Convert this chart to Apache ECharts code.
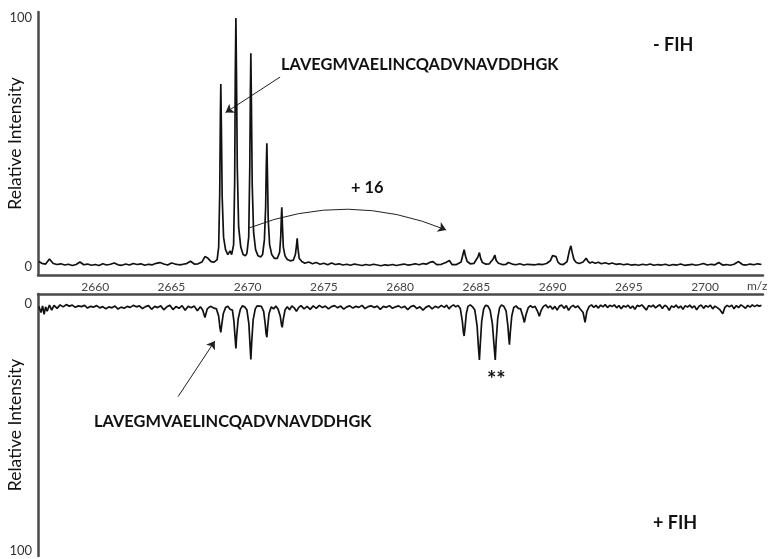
<!DOCTYPE html>
<html><head><meta charset="utf-8">
<script src="https://cdn.jsdelivr.net/npm/echarts@6/dist/echarts.min.js"></script>
<style>html,body{margin:0;padding:0;background:#fff}#c{width:771px;height:559px}</style>
</head><body><div id="c"></div>
<script>
// m/z tick labels and intensity tick labels
const mzTicks = [2660, 2665, 2670, 2675, 2680, 2685, 2690, 2695, 2700];
const intensityTicks = [0, 100];
const peptide = 'LAVEGMVAELINCQADVNAVDDHGK';
const panelLabels = ['- FIH', '+ FIH'];

// - FIH spectrum: [m/z, relative intensity]
const minusFIH = [
[2656.3,2.2],[2656.5,1.5],[2656.75,1.2],[2657.0,3.2],[2657.25,1.4],[2657.5,1.0],[2657.75,1.3],[2658.0,0.8],
[2658.25,1.1],[2658.5,0.6],[2658.75,1.0],[2659.0,2.0],[2659.25,0.9],[2659.5,1.2],[2659.75,0.7],[2660.0,1.0],
[2660.25,0.6],[2660.5,1.3],[2660.75,0.8],[2661.0,1.1],[2661.25,1.6],[2661.5,0.9],[2661.75,0.7],[2662.0,1.2],
[2662.25,0.8],[2662.5,1.4],[2662.75,1.0],[2663.0,1.3],[2663.25,0.7],[2663.5,1.1],[2663.75,0.9],[2664.0,1.5],
[2664.25,1.8],[2664.5,1.2],[2664.75,0.8],[2665.0,1.6],[2665.25,1.2],[2665.5,0.9],[2665.75,1.1],[2666.0,1.4],
[2666.25,2.3],[2666.5,1.2],[2666.75,1.3],[2667.0,2.0],[2667.2,4.2],[2667.4,3.5],[2667.6,2.2],[2667.8,2.0],
[2668.0,3.0],[2668.1,8],[2668.17,30],[2668.21,60],[2668.24,73.5],[2668.28,55],[2668.33,28],[2668.42,12],
[2668.55,7],[2668.7,5],[2668.85,6.5],[2668.95,5],[2669.08,9],[2669.15,35],[2669.19,78],[2669.23,100],
[2669.27,76],[2669.32,40],[2669.41,16],[2669.55,8],[2669.7,5],[2669.85,4.5],[2669.95,5.5],[2670.07,12],
[2670.14,40],[2670.18,70],[2670.21,85.8],[2670.25,64],[2670.3,33],[2670.39,14],[2670.52,7],[2670.68,4.5],
[2670.85,4],[2670.98,5],[2671.1,11],[2671.18,24],[2671.22,40],[2671.26,49.7],[2671.3,37],[2671.35,19],
[2671.44,9],[2671.58,5],[2671.75,3.5],[2671.95,3.5],[2672.1,6],[2672.17,12],[2672.21,20],[2672.24,24],
[2672.28,17],[2672.34,8],[2672.45,4.5],[2672.6,3],[2672.8,2.5],[2673.0,2.8],[2673.13,5],[2673.21,9],
[2673.25,11.5],[2673.3,7.5],[2673.38,3.5],[2673.55,2.2],[2673.75,1.5],[2674.0,2.0],[2674.25,1.3],[2674.5,1.8],
[2674.75,1.1],[2675.0,1.5],[2675.25,0.9],[2675.5,1.6],[2675.75,1.0],[2676.0,1.3],[2676.25,0.8],[2676.5,1.1],
[2676.75,0.7],[2677.0,1.2],[2677.25,0.9],[2677.5,0.6],[2677.75,1.0],[2678.0,0.7],[2678.25,1.1],[2678.5,0.8],
[2678.75,0.5],[2679.0,0.9],[2679.25,0.7],[2679.5,1.0],[2679.75,0.6],[2680.0,0.9],[2680.25,1.2],[2680.5,0.8],
[2680.75,1.0],[2681.0,1.3],[2681.25,0.9],[2681.5,1.4],[2681.75,1.2],[2682.0,2.0],[2682.16,2.2],[2682.4,1.0],
[2682.7,1.1],[2683.0,1.8],[2683.23,2.6],[2683.4,1.0],[2683.7,1.0],[2684.0,2.0],[2684.1,4.5],[2684.2,7.0],
[2684.28,4.5],[2684.4,2.2],[2684.6,1.3],[2684.85,1.5],[2685.1,4.0],[2685.2,5.8],[2685.28,3.5],[2685.4,1.8],
[2685.6,1.2],[2685.85,1.3],[2686.1,3.2],[2686.21,4.8],[2686.3,2.6],[2686.45,1.5],[2686.7,1.0],[2686.95,1.1],
[2687.1,1.8],[2687.21,2.2],[2687.35,1.2],[2687.6,0.9],[2687.85,1.3],[2688.1,0.8],[2688.35,1.1],[2688.6,1.0],
[2688.85,0.9],[2689.1,1.2],[2689.35,1.0],[2689.6,1.4],[2689.85,2.5],[2690.0,4.6],[2690.1,5.2],[2690.22,4.2],
[2690.35,2.0],[2690.5,1.2],[2690.7,1.0],[2690.95,2.2],[2691.1,6.5],[2691.2,8.5],[2691.28,6.0],[2691.4,3.0],
[2691.55,1.8],[2691.75,1.4],[2692.0,2.0],[2692.2,3.5],[2692.3,2.5],[2692.45,1.6],[2692.6,2.0],[2692.8,1.5],
[2693.0,1.9],[2693.2,1.3],[2693.45,1.7],[2693.7,1.2],[2693.9,1.6],[2694.15,1.1],[2694.4,1.3],[2694.65,0.9],
[2694.9,1.2],[2695.15,0.8],[2695.4,1.0],[2695.65,0.7],[2695.9,1.1],[2696.15,0.8],[2696.4,1.2],[2696.65,0.7],
[2696.9,1.0],[2697.15,0.8],[2697.4,1.1],[2697.65,0.6],[2697.9,1.0],[2698.15,0.8],[2698.4,1.2],[2698.65,0.7],
[2698.9,0.9],[2699.15,1.1],[2699.4,0.7],[2699.65,1.0],[2699.9,1.4],[2700.15,0.8],[2700.4,1.1],[2700.65,0.9],
[2700.9,1.8],[2701.15,0.8],[2701.4,1.0],[2701.65,0.7],[2701.9,1.1],[2702.2,2.2],[2702.45,1.0],[2702.7,0.8],
[2702.95,1.2],[2703.2,0.9],[2703.45,1.3],[2703.7,1.0]
];

// + FIH spectrum: [m/z, relative intensity] (drawn inverted)
const plusFIH = [
[2656.3,1.0],[2656.45,3.5],[2656.55,0.8],[2656.65,4.2],[2656.75,1.2],[2656.85,3.0],[2657.0,0.5],[2657.15,2.5],
[2657.3,0.6],[2657.5,1.8],[2657.7,0.4],[2657.9,1.2],[2658.1,0.3],[2658.3,0.9],[2658.5,0.5],[2658.7,1.4],
[2658.9,0.8],[2659.1,1.1],[2659.3,0.6],[2659.5,1.7],[2659.7,1.0],[2659.9,1.3],[2660.1,0.7],[2660.3,1.6],
[2660.5,1.1],[2660.7,2.0],[2660.9,1.2],[2661.1,1.6],[2661.3,0.9],[2661.5,2.1],[2661.7,1.3],[2661.9,1.8],
[2662.1,1.0],[2662.3,1.4],[2662.5,0.6],[2662.7,1.2],[2662.9,0.8],[2663.1,1.9],[2663.3,1.1],[2663.5,0.7],
[2663.7,2.2],[2663.9,1.0],[2664.1,1.5],[2664.3,0.8],[2664.5,2.4],[2664.7,1.2],[2664.9,0.6],[2665.1,2.3],
[2665.3,1.1],[2665.5,1.8],[2665.7,0.7],[2665.9,2.6],[2666.1,1.0],[2666.3,1.6],[2666.5,0.9],[2666.7,2.8],
[2666.9,1.2],[2667.05,2.5],[2667.2,5.5],[2667.35,2.0],[2667.55,1.0],[2667.75,1.6],[2667.95,2.0],[2668.1,5],
[2668.18,9.5],[2668.24,11.5],[2668.3,8.5],[2668.4,4],[2668.55,1.5],[2668.7,1.0],[2668.85,2.2],[2669.0,2.5],
[2669.1,7],[2669.18,14],[2669.23,18],[2669.28,13],[2669.38,6],[2669.52,2.2],[2669.65,0.8],[2669.8,1.2],
[2669.95,2.4],[2670.08,8],[2670.15,16],[2670.21,22.5],[2670.27,15],[2670.36,6.5],[2670.5,2.0],[2670.62,0.8],
[2670.75,1.5],[2670.9,1.0],[2671.05,3.0],[2671.15,8],[2671.21,12],[2671.26,13.5],[2671.31,9.5],[2671.4,4],
[2671.55,1.2],[2671.7,2.0],[2671.85,0.9],[2672.0,2.2],[2672.14,5],[2672.22,8.5],[2672.27,9.5],[2672.33,6.5],
[2672.45,2.5],[2672.6,1.2],[2672.75,2.4],[2672.9,0.8],[2673.05,1.6],[2673.2,3.0],[2673.35,1.4],[2673.5,0.7],
[2673.7,2.0],[2673.9,1.0],[2674.1,2.2],[2674.3,0.8],[2674.5,1.8],[2674.7,0.6],[2674.9,1.5],[2675.1,0.9],
[2675.3,2.0],[2675.5,1.1],[2675.7,0.7],[2675.9,1.6],[2676.1,0.9],[2676.3,2.1],[2676.5,1.2],[2676.7,0.8],
[2676.9,1.7],[2677.1,1.0],[2677.3,1.4],[2677.5,0.6],[2677.7,1.9],[2677.9,1.1],[2678.1,0.8],[2678.3,1.5],
[2678.5,0.9],[2678.7,2.2],[2678.9,1.0],[2679.1,1.4],[2679.3,0.7],[2679.5,1.8],[2679.7,1.2],[2679.9,0.8],
[2680.1,1.6],[2680.3,1.0],[2680.5,2.3],[2680.7,1.1],[2680.9,0.7],[2681.1,1.9],[2681.3,1.2],[2681.5,2.5],
[2681.7,1.3],[2681.9,0.8],[2682.1,2.0],[2682.3,1.0],[2682.5,1.6],[2682.7,0.6],[2682.9,1.4],[2683.05,0.5],
[2683.2,2.0],[2683.35,1.0],[2683.5,0.4],[2683.65,1.2],[2683.8,0.6],[2683.95,2.0],[2684.08,7],[2684.15,11.5],
[2684.2,13],[2684.25,10],[2684.34,4],[2684.45,1.0],[2684.6,0.4],[2684.75,1.2],[2684.9,2.5],[2685.05,9],
[2685.13,17],[2685.2,22.7],[2685.26,16],[2685.35,7],[2685.48,2.0],[2685.6,0.6],[2685.75,0.8],[2685.9,2.5],
[2686.05,8],[2686.15,16],[2686.24,22.7],[2686.3,15],[2686.4,6],[2686.52,1.6],[2686.65,0.5],[2686.8,1.0],
[2686.95,2.8],[2687.07,9],[2687.13,14],[2687.17,16.5],[2687.22,12],[2687.32,5],[2687.45,1.5],[2687.6,0.8],
[2687.75,1.8],[2687.9,2.0],[2688.05,5],[2688.15,7.5],[2688.25,4.5],[2688.4,1.6],[2688.55,0.7],[2688.7,1.5],
[2688.85,1.0],[2689.0,2.8],[2689.13,5],[2689.25,2.6],[2689.4,1.0],[2689.55,0.4],[2689.7,1.6],[2689.85,0.8],
[2690.0,2.2],[2690.15,1.0],[2690.3,2.5],[2690.45,0.9],[2690.6,0.5],[2690.75,1.8],[2690.9,0.7],[2691.05,2.6],
[2691.2,1.2],[2691.35,0.6],[2691.5,1.5],[2691.65,0.8],[2691.8,2.0],[2692.0,3.5],[2692.13,7.5],[2692.25,3.0],
[2692.4,1.0],[2692.55,0.4],[2692.7,1.4],[2692.85,0.6],[2693.0,1.7],[2693.15,0.5],[2693.3,1.2],[2693.45,0.3],
[2693.6,1.5],[2693.75,0.6],[2693.9,1.1],[2694.05,0.4],[2694.2,1.6],[2694.35,0.7],[2694.5,2.0],[2694.65,0.8],
[2694.8,1.3],[2694.95,0.5],[2695.1,1.8],[2695.25,0.9],[2695.4,2.2],[2695.55,0.6],[2695.7,1.0],[2695.85,0.4],
[2696.0,1.4],[2696.15,2.5],[2696.3,0.7],[2696.45,1.2],[2696.6,0.5],[2696.75,1.6],[2696.9,0.8],[2697.05,0.4],
[2697.2,1.9],[2697.35,0.6],[2697.5,1.1],[2697.65,2.6],[2697.8,0.8],[2697.95,1.4],[2698.1,0.5],[2698.25,1.7],
[2698.4,0.9],[2698.55,2.2],[2698.7,0.7],[2698.85,1.3],[2699.0,0.5],[2699.15,1.6],[2699.3,0.8],[2699.45,2.4],
[2699.6,1.0],[2699.75,0.5],[2699.9,1.8],[2700.05,0.7],[2700.2,1.3],[2700.35,0.5],[2700.5,2.0],[2700.65,0.9],
[2700.8,1.5],[2700.95,2.2],[2701.16,4.0],[2701.3,1.4],[2701.45,0.6],[2701.6,1.2],[2701.75,0.5],[2701.9,2.0],
[2702.05,0.7],[2702.2,1.5],[2702.35,0.4],[2702.5,1.0],[2702.65,1.8],[2702.8,0.6],[2702.95,1.3],[2703.1,0.4],
[2703.25,1.1],[2703.4,0.5],[2703.55,0.9],[2703.7,0.6]
];

const FONT = 'Lato, "Liberation Sans", sans-serif';
const axisLineStyle = {color: '#4a4a4a', width: 2.5};
const chart = echarts.init(document.getElementById('c'), null, {renderer: 'canvas'});

const xBase = {
  type: 'value', min: 2656.25, max: 2703.8,
  splitLine: {show: false}, axisTick: {show: false},
  axisLine: {show: true, onZero: false, lineStyle: axisLineStyle}
};
const yBase = {
  type: 'value', splitLine: {show: false},
  axisTick: {show: false},
  axisLine: {show: true, onZero: false, lineStyle: axisLineStyle},
  axisLabel: {customValues: intensityTicks, color: '#333', fontSize: 13, margin: 6, fontFamily: FONT},
  name: 'Relative Intensity', nameLocation: 'middle', nameGap: 14, nameMoveOverlap: false,
  nameTextStyle: {fontSize: 17.5, color: '#111', fontFamily: FONT}
};
const arrowStyle = {color: '#222', width: 1, opacity: 1};

chart.setOption({
  animation: false,
  backgroundColor: '#fff',
  grid: [
    {left: 38, right: 8, top: 12, height: 263, containLabel: false, outerBoundsMode: 'none'},
    {left: 38, right: 8, top: 294, height: 262, containLabel: false, outerBoundsMode: 'none'}
  ],
  xAxis: [
    Object.assign({}, xBase, {gridIndex: 0, position: 'bottom',
      axisLabel: {customValues: mzTicks, color: '#444', fontSize: 12, margin: 6, fontFamily: FONT,
        formatter: function (v) { return String(v); }}}),
    Object.assign({}, xBase, {gridIndex: 1, position: 'top', axisLabel: {show: false}})
  ],
  yAxis: [
    Object.assign({}, yBase, {gridIndex: 0, min: -3.2, max: 102.4}),
    Object.assign({}, yBase, {gridIndex: 1, min: -4, max: 102, inverse: true})
  ],
  series: [
    {
      type: 'line', xAxisIndex: 0, yAxisIndex: 0, data: minusFIH,
      showSymbol: false, symbol: 'none', lineStyle: {color: '#111', width: 1.7}, clip: true
    },
    {
      type: 'line', xAxisIndex: 1, yAxisIndex: 1, data: plusFIH,
      showSymbol: false, symbol: 'none', lineStyle: {color: '#111', width: 1.7}, clip: true
    },
    {
      type: 'lines', coordinateSystem: 'cartesian2d', xAxisIndex: 0, yAxisIndex: 0,
      symbol: ['none', 'arrow'], symbolSize: 8, silent: true,
      lineStyle: arrowStyle,
      data: [
        {coords: [[2672.13, 76.3], [2668.55, 62.0]]},
        {coords: [[2670.1, 15.7], [2683.02, 14.9]], lineStyle: {curveness: 0.2}}
      ]
    },
    {
      type: 'lines', coordinateSystem: 'cartesian2d', xAxisIndex: 1, yAxisIndex: 1,
      symbol: ['none', 'arrow'], symbolSize: 8, silent: true,
      lineStyle: arrowStyle,
      data: [
        {coords: [[2665.44, 37.5], [2667.85, 15.0]]}
      ]
    }
  ],
  graphic: [
    {type: 'text', x: 281, y: 65, style: {text: peptide, font: 'bold 16.4px ' + FONT, fill: '#111', verticalAlign: 'middle'}},
    {type: 'text', x: 94, y: 422, style: {text: peptide, font: 'bold 16.4px ' + FONT, fill: '#111', verticalAlign: 'middle'}},
    {type: 'text', x: 351, y: 188, style: {text: '+ 16', font: 'bold 16.4px ' + FONT, fill: '#111', verticalAlign: 'middle'}},
    {type: 'text', x: 487, y: 380, style: {text: '**', font: 'bold 22px ' + FONT, fill: '#111', verticalAlign: 'middle'}},
    {type: 'text', x: 653, y: 45, style: {text: panelLabels[0], font: 'bold 18px ' + FONT, fill: '#111', verticalAlign: 'middle'}},
    {type: 'text', x: 653, y: 523, style: {text: panelLabels[1], font: 'bold 18px ' + FONT, fill: '#111', verticalAlign: 'middle'}},
    {type: 'text', x: 747, y: 286, style: {text: 'm/z', font: '12px ' + FONT, fill: '#444', verticalAlign: 'middle'}}
  ]
});
</script>
</body></html>
